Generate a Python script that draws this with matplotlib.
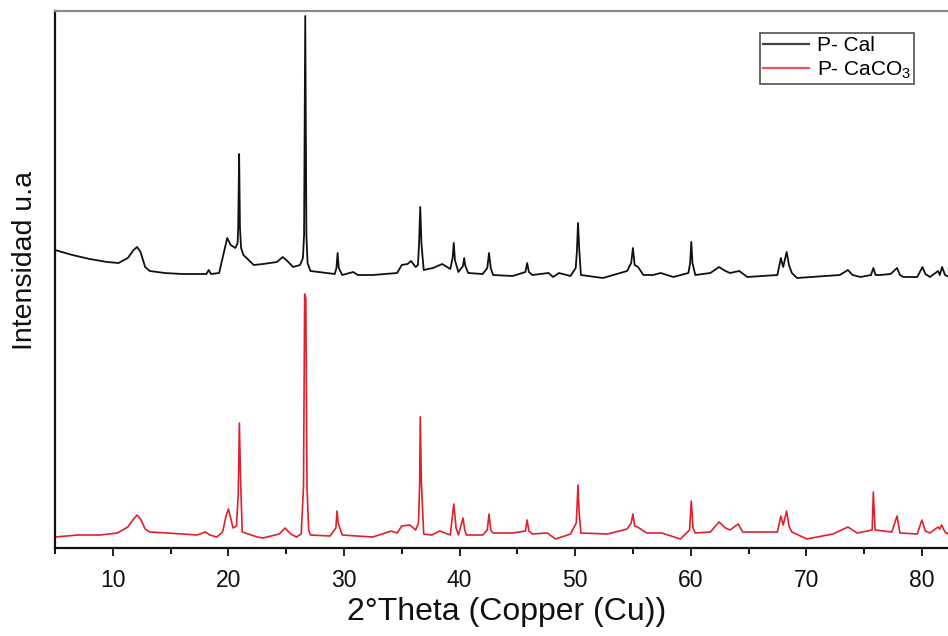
import matplotlib
matplotlib.use("Agg")
import matplotlib.pyplot as plt
from matplotlib.ticker import MultipleLocator

plt.rcParams['font.family'] = ['Liberation Sans', 'DejaVu Sans']
plt.rcParams['mathtext.fontset'] = 'custom'
plt.rcParams['mathtext.rm'] = 'Liberation Sans'
plt.rcParams['mathtext.it'] = 'Liberation Sans'
plt.rcParams['mathtext.default'] = 'rm'

# ---- data (2theta in degrees, intensity in arbitrary units) ----
cal_2theta = [5.0, 6.5, 8.0, 9.5, 10.5, 11.3, 11.8, 12.1, 12.4, 12.8, 13.2, 14.5, 16.0, 17.6, 18.1, 18.3, 18.5,
              19.2, 19.5, 19.9, 20.2, 20.6, 20.8, 20.85, 20.93, 21.0, 21.1, 21.3, 22.2, 23.0, 24.2, 24.7, 25.1,
              25.6, 26.2, 26.45, 26.55, 26.65, 26.75, 26.85, 27.1, 28.5, 29.2, 29.35, 29.45, 29.55, 29.85, 30.8,
              31.2, 32.5, 34.6, 35.0, 35.5, 35.8, 36.2, 36.4, 36.5, 36.6, 36.7, 36.9, 37.7, 38.5, 39.2, 39.4,
              39.5, 39.6, 39.9, 40.3, 40.4, 40.5, 40.75, 42.0, 42.4, 42.55, 42.7, 42.9, 44.6, 45.7, 45.85, 46.0,
              46.3, 47.7, 48.1, 48.6, 49.6, 50.05, 50.15, 50.25, 50.35, 50.5, 52.4, 54.5, 54.85, 55.0, 55.15,
              55.45, 55.9, 56.75, 57.4, 58.5, 59.8, 59.95, 60.05, 60.15, 60.4, 61.7, 62.45, 63.0, 63.4, 64.2,
              64.9, 67.5, 67.8, 68.0, 68.3, 68.5, 68.75, 69.2, 72.9, 73.6, 74.0, 74.7, 75.6, 75.8, 76.0, 76.4,
              77.3, 77.85, 78.1, 78.4, 79.6, 80.05, 80.3, 80.7, 81.4, 81.55, 81.75, 82.0, 82.4]
cal_int = [298, 293, 289, 286, 285, 290, 298, 301, 296, 281, 277, 275, 274, 274, 274, 278, 274,
           275, 290, 310, 303, 300, 305, 321, 394, 321, 300, 293, 283, 284, 286, 291, 287,
           281, 283, 290, 313, 532, 313, 285, 277, 275, 274, 280, 295, 280, 273, 276,
           273, 273, 275, 283, 284, 287, 281, 283, 305, 341, 305, 278, 280, 284, 279, 290,
           305, 288, 276, 282, 290, 282, 275, 274, 280, 295, 280, 273, 272, 276, 285, 276,
           273, 275, 271, 275, 272, 280, 296, 325, 300, 273, 270, 277, 285, 300, 283,
           281, 273, 273, 275, 271, 275, 285, 306, 285, 273, 275, 281, 277, 275, 277,
           271, 273, 290, 281, 296, 283, 275, 270, 273, 278, 273, 271, 273, 280, 273, 273,
           274, 280, 273, 271, 271, 281, 274, 271, 277, 273, 281, 273, 271]

caco3_2theta = [5.0, 7.0, 8.9, 10.4, 11.3, 11.8, 12.1, 12.4, 12.8, 13.2, 14.7, 17.3, 18.0, 18.4, 19.0,
                19.5, 19.8, 20.0, 20.2, 20.4, 20.7, 20.85, 20.95, 21.05, 21.2, 22.5, 23.0, 24.4, 24.9,
                25.4, 25.9, 26.3, 26.5, 26.6, 26.7, 26.8, 26.95, 27.1, 28.8, 29.3, 29.4, 29.5, 29.85,
                31.1, 32.5, 34.1, 34.6, 35.0, 35.7, 36.2, 36.45, 36.55, 36.6, 36.7, 36.9, 37.6, 38.3,
                39.2, 39.5, 39.7, 39.9, 40.3, 40.45, 40.6, 42.0, 42.4, 42.55, 42.7, 42.9, 44.6, 45.7,
                45.85, 46.0, 46.3, 47.6, 48.3, 49.6, 50.1, 50.25, 50.35, 50.5, 52.8, 54.5, 54.85, 55.0,
                55.15, 55.4, 56.2, 57.5, 59.1, 59.9, 60.05, 60.2, 60.4, 61.7, 62.45, 63.0, 63.4, 64.1,
                64.5, 67.5, 67.8, 68.0, 68.3, 68.5, 68.75, 70.05, 72.3, 73.6, 74.4, 75.7, 75.8, 75.95,
                77.4, 77.85, 78.1, 79.6, 80.0, 80.3, 80.7, 81.4, 81.55, 81.7, 82.0, 82.4]
caco3_int = [11, 13, 13, 15, 21, 29, 33, 29, 19, 16, 15, 13, 16, 13, 11,
             16, 32, 39, 30, 20, 22, 53, 125, 70, 16, 11, 10, 14, 20,
             14, 11, 14, 61, 254, 250, 61, 18, 13, 12, 20, 37, 25, 13,
             12, 11, 17, 15, 22, 23, 18, 25, 65, 131, 65, 14, 13, 17,
             13, 44, 20, 13, 30, 18, 13, 13, 18, 34, 18, 15, 15, 17,
             28, 17, 14, 15, 9, 14, 25, 63, 35, 15, 14, 19, 25, 34,
             22, 21, 15, 15, 9, 18, 47, 20, 15, 16, 26, 20, 18, 24,
             16, 16, 32, 23, 37, 22, 16, 9, 14, 21, 15, 18, 56, 18,
             16, 32, 15, 14, 28, 17, 15, 21, 19, 23, 16, 13]

series_labels = ["P- Cal", "P- CaCO$_3$"]
x_label = "2°Theta (Copper (Cu))"
y_label = "Intensidad u.a"
x_ticks = [10, 20, 30, 40, 50, 60, 70, 80]

fig = plt.figure(figsize=(9.48, 6.36), dpi=100)
ax = fig.add_axes([55 / 948, 1 - 548 / 636, 1 - 55 / 948, (548 - 11) / 636])

ax.plot(cal_2theta, cal_int, color='#111111', lw=1.3, label=series_labels[0])
ax.plot(caco3_2theta, caco3_int, color='#e0202a', lw=1.2, label=series_labels[1])

ax.set_xlim(5, 82.26)
ax.set_ylim(0, 537)
ax.set_yticks([])
ax.set_xticks(x_ticks)
ax.xaxis.set_minor_locator(MultipleLocator(5))
ax.tick_params(axis='x', which='major', direction='out', length=6, width=1.3, labelsize=16.5,
               pad=9, colors='#111111')
ax.tick_params(axis='x', which='minor', direction='out', length=4, width=1.3)

for s in ['left', 'bottom']:
    ax.spines[s].set_linewidth(1.6)
    ax.spines[s].set_color('#111111')
ax.spines['top'].set_linewidth(1.6)
ax.spines['top'].set_color('#8a8a8a')
ax.spines['right'].set_visible(False)

ax.set_xlabel(x_label, fontsize=23, color='#111111')
ax.xaxis.set_label_coords(0.506, -0.092)
ax.set_ylabel(y_label, fontsize=20.5, color='#111111')
ax.yaxis.set_label_coords(-0.019, 0.536)

leg = ax.legend(loc='upper right', bbox_to_anchor=((914 - 55) / 893, (548 - 33) / 537),
                borderaxespad=0, fontsize=15, frameon=True, fancybox=False,
                handlelength=2.2, handletextpad=0.35, borderpad=0.15, labelspacing=0.2)
leg.get_frame().set_edgecolor('#222222')
leg.get_frame().set_linewidth(1.2)
leg.get_lines()[0].set_color('#444444')
leg.get_lines()[1].set_color('#e8555a')
for line in leg.get_lines():
    line.set_linewidth(1.6)

fig.savefig("out.png", dpi=100)
